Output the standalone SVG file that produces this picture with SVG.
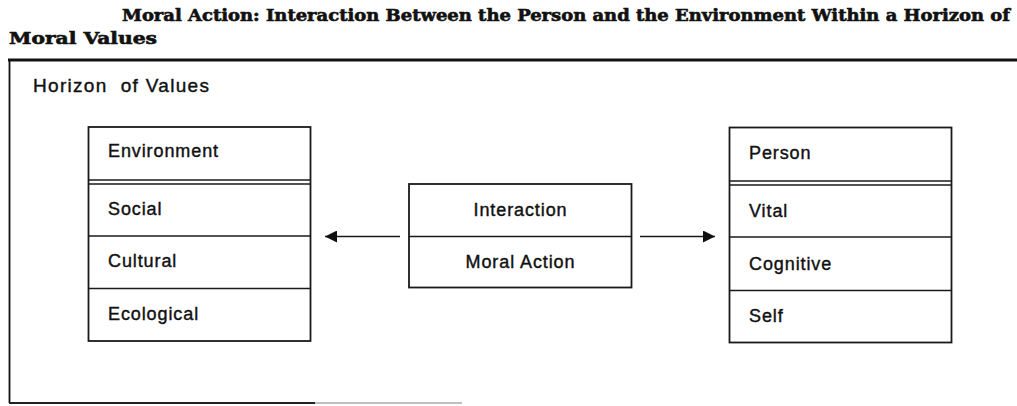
<svg xmlns="http://www.w3.org/2000/svg" width="1017" height="406" viewBox="0 0 1017 406">
<defs>
<style>
.title{font-family:"DejaVu Serif","Liberation Serif",serif;font-weight:bold;font-size:16px;fill:#111;stroke:#111;stroke-width:0.6}
.lbl{font-family:"Liberation Sans",Arial,sans-serif;font-size:18px;letter-spacing:0.9px;fill:#111;stroke:#111;stroke-width:0.4}
.box{fill:#fff;stroke:#1a1a1a;stroke-width:1.8}
.div{stroke:#1a1a1a;stroke-width:1.5;fill:none}
.conn{stroke:#1a1a1a;stroke-width:1.6;fill:none}
</style>
<marker id="ah" viewBox="0 0 12 12" refX="12" refY="6" markerWidth="12" markerHeight="12" markerUnits="userSpaceOnUse" orient="auto">
<path d="M0,0 L12,6 L0,12 Z" fill="#111"/>
</marker>
</defs>
<rect width="1017" height="406" fill="#fff"/>
<text class="title" x="122" y="21" textLength="888" lengthAdjust="spacingAndGlyphs">Moral Action: Interaction Between the Person and the Environment Within a Horizon of</text>
<text class="title" x="9" y="44" textLength="148" lengthAdjust="spacingAndGlyphs">Moral Values</text>
<g id="frame">
<line x1="8" y1="60" x2="1017" y2="60" stroke="#111" stroke-width="2.8"/>
<line x1="9.5" y1="59" x2="9.5" y2="403" stroke="#111" stroke-width="1.8"/>
<line x1="9" y1="403" x2="315" y2="403" stroke="#222" stroke-width="1.8"/>
<line x1="315" y1="403" x2="462" y2="403" stroke="#aaa" stroke-width="1.5"/>
<text class="lbl" x="33" y="92" style="font-size:19px;letter-spacing:1.3px">Horizon&#160; of Values</text>
</g>
<g id="environment">
<rect class="box" x="88.5" y="127" width="222" height="214"/>
<line class="div" x1="88.5" y1="180" x2="310.5" y2="180"/>
<line class="div" x1="88.5" y1="184" x2="310.5" y2="184"/>
<line class="div" x1="88.5" y1="236" x2="310.5" y2="236"/>
<line class="div" x1="88.5" y1="288.5" x2="310.5" y2="288.5"/>
<text class="lbl" x="108" y="157">Environment</text>
<text class="lbl" x="108" y="215">Social</text>
<text class="lbl" x="108" y="267">Cultural</text>
<text class="lbl" x="108" y="320">Ecological</text>
</g>
<g id="interaction">
<rect class="box" x="409" y="184" width="222.5" height="103.5"/>
<line class="div" x1="409" y1="236.5" x2="631.5" y2="236.5"/>
<text class="lbl" x="520.5" y="216" text-anchor="middle">Interaction</text>
<text class="lbl" x="520.5" y="268" text-anchor="middle">Moral Action</text>
</g>
<g id="person">
<rect class="box" x="729.5" y="127.5" width="222" height="215"/>
<line class="div" x1="729.5" y1="181" x2="951.5" y2="181"/>
<line class="div" x1="729.5" y1="185" x2="951.5" y2="185"/>
<line class="div" x1="729.5" y1="237" x2="951.5" y2="237"/>
<line class="div" x1="729.5" y1="290.5" x2="951.5" y2="290.5"/>
<text class="lbl" x="749" y="159">Person</text>
<text class="lbl" x="749" y="217">Vital</text>
<text class="lbl" x="749" y="270">Cognitive</text>
<text class="lbl" x="749" y="322">Self</text>
</g>
<g id="connectors">
<line class="conn" x1="400" y1="236.5" x2="325" y2="236.5" marker-end="url(#ah)"/>
<line class="conn" x1="640" y1="236.5" x2="715" y2="236.5" marker-end="url(#ah)"/>
</g>
</svg>
